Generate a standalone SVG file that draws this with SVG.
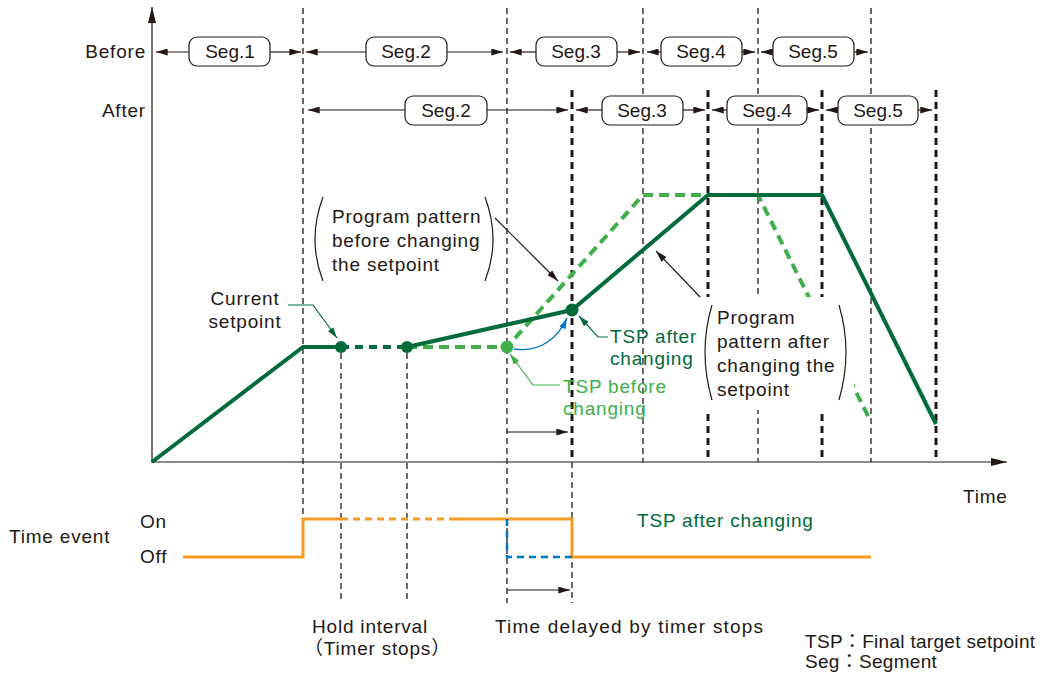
<svg xmlns="http://www.w3.org/2000/svg" width="1055" height="675" viewBox="0 0 1055 675">
<defs>
<style>
text{font-family:"Liberation Sans","Noto Sans CJK JP",Arial,sans-serif;font-size:19px;fill:#231815;letter-spacing:0.8px}
.seg{letter-spacing:0;text-anchor:middle}
.box{fill:#fff;stroke:#231815;stroke-width:1.2}
.dim{stroke:#231815;stroke-width:1.2;fill:none}
.thin{stroke:#231815;stroke-width:1.3;stroke-dasharray:6 4;fill:none}
.thick{stroke:#231815;stroke-width:3;stroke-dasharray:7 5;fill:none}
.dg{stroke:#006a3b;stroke-width:4;fill:none;stroke-linejoin:round}
.lg{stroke:#3db049;stroke-width:4;fill:none;stroke-dasharray:10 6}
.or{stroke:#f59a23;stroke-width:3;fill:none}
.green{fill:#006a3b}
.lgreen{fill:#3db049}
</style>
<marker id="ah" viewBox="0 0 10 6" refX="10" refY="3" markerWidth="12" markerHeight="7" markerUnits="userSpaceOnUse" orient="auto"><path d="M0,0L10,3L0,6z" fill="#231815"/></marker>
<marker id="ahg" viewBox="0 0 10 6" refX="10" refY="3" markerWidth="11" markerHeight="7" markerUnits="userSpaceOnUse" orient="auto"><path d="M0,0L10,3L0,6z" fill="#006a3b"/></marker>
<marker id="ahl" viewBox="0 0 10 6" refX="10" refY="3" markerWidth="11" markerHeight="7" markerUnits="userSpaceOnUse" orient="auto"><path d="M0,0L10,3L0,6z" fill="#3db049"/></marker>
<marker id="ahb" viewBox="0 0 10 6" refX="10" refY="3" markerWidth="11" markerHeight="7" markerUnits="userSpaceOnUse" orient="auto"><path d="M0,0L10,3L0,6z" fill="#0075c2"/></marker>
<marker id="axis" viewBox="0 0 16 8" refX="16" refY="4" markerWidth="16" markerHeight="8" markerUnits="userSpaceOnUse" orient="auto"><path d="M0,0L16,4L0,8z" fill="#231815"/></marker>
</defs>
<rect width="1055" height="675" fill="#fff"/>

<g id="gridlines">
<path class="thin" d="M303,8V519M507,8V603M643,8V462M758,8V462M871,8V462M341,353V603M407,353V603M572,462V603"/>
<path class="thick" d="M572,90V462M708,90V462M822,90V462M936,90V462"/>
</g>

<g id="axes">
<path class="dim" d="M152,463V7" stroke-width="1.5" marker-end="url(#axis)"/>
<path class="dim" d="M152,462H1007" stroke-width="1.5" marker-end="url(#axis)"/>
<text x="963" y="503">Time</text>
</g>

<g id="rowlabels">
<text x="146" y="58" text-anchor="end">Before</text>
<text x="146" y="117" text-anchor="end">After</text>
</g>

<g id="connectors">
<path class="dim" marker-end="url(#ah)" d="M189,52H156"/>
<path class="dim" marker-end="url(#ah)" d="M270,52H301"/>
<path class="dim" marker-end="url(#ah)" d="M366,52H306"/>
<path class="dim" marker-end="url(#ah)" d="M447,52H503"/>
<path class="dim" marker-end="url(#ah)" d="M536,52H510"/>
<path class="dim" marker-end="url(#ah)" d="M617,52H640"/>
<path class="dim" marker-end="url(#ah)" d="M661,52H647"/>
<path class="dim" marker-end="url(#ah)" d="M742,52H755"/>
<path class="dim" marker-end="url(#ah)" d="M773,52H761"/>
<path class="dim" marker-end="url(#ah)" d="M854,52H868"/>
<path class="dim" marker-end="url(#ah)" d="M405,110H308"/>
<path class="dim" marker-end="url(#ah)" d="M487,110H568"/>
<path class="dim" marker-end="url(#ah)" d="M602,110H576"/>
<path class="dim" marker-end="url(#ah)" d="M683,110H705"/>
<path class="dim" marker-end="url(#ah)" d="M727,110H712"/>
<path class="dim" marker-end="url(#ah)" d="M807,110H819"/>
<path class="dim" marker-end="url(#ah)" d="M838,110H826"/>
<path class="dim" marker-end="url(#ah)" d="M918,110H932"/>
<path class="dim" marker-end="url(#ah)" d="M507,432H568"/>
<path class="dim" marker-end="url(#ah)" d="M507,590H570"/>
<path class="dim" marker-end="url(#ah)" d="M495,218L558,281"/>
<path class="dim" marker-end="url(#ah)" d="M703,300L656,251"/>
<path d="M288,305H313L337,338" stroke="#006a3b" stroke-width="1.2" fill="none" marker-end="url(#ahg)"/>
<path d="M608,337H598L579,316" stroke="#006a3b" stroke-width="1.2" fill="none" marker-end="url(#ahg)"/>
<path d="M560,385H533L510,354" stroke="#3db049" stroke-width="1.2" fill="none" marker-end="url(#ahl)"/>
<path d="M514,349C540,353 558,338 567,318" stroke="#0075c2" stroke-width="1.4" fill="none" marker-end="url(#ahb)"/>
</g>

<g id="seg-before">
<g id="b-seg1"><rect class="box" x="189" y="37" width="81" height="29" rx="8"/><text class="seg" x="230" y="58">Seg.1</text></g>
<g id="b-seg2"><rect class="box" x="366" y="37" width="81" height="29" rx="8"/><text class="seg" x="406" y="58">Seg.2</text></g>
<g id="b-seg3"><rect class="box" x="536" y="37" width="81" height="29" rx="8"/><text class="seg" x="576" y="58">Seg.3</text></g>
<g id="b-seg4"><rect class="box" x="661" y="37" width="81" height="29" rx="8"/><text class="seg" x="701" y="58">Seg.4</text></g>
<g id="b-seg5"><rect class="box" x="773" y="37" width="81" height="29" rx="8"/><text class="seg" x="813" y="58">Seg.5</text></g>
</g>
<g id="seg-after">
<g id="a-seg2"><rect class="box" x="405" y="96" width="82" height="29" rx="8"/><text class="seg" x="446" y="117">Seg.2</text></g>
<g id="a-seg3"><rect class="box" x="602" y="96" width="81" height="29" rx="8"/><text class="seg" x="642" y="117">Seg.3</text></g>
<g id="a-seg4"><rect class="box" x="727" y="96" width="80" height="29" rx="8"/><text class="seg" x="767" y="117">Seg.4</text></g>
<g id="a-seg5"><rect class="box" x="838" y="96" width="80" height="29" rx="8"/><text class="seg" x="878" y="117">Seg.5</text></g>
</g>

<g id="pattern-before">
<path class="lg" d="M407,347H507L643,195H758L870,420"/>
</g>
<g id="pattern-after">
<path class="dg" d="M152,462L303,347H341"/>
<path class="dg" d="M341,347H407" stroke-dasharray="8 6"/>
<path class="dg" d="M407,347L572,310L708,195H822L936,424"/>
<circle cx="341" cy="347" r="6" class="green"/>
<circle cx="407" cy="347" r="6" class="green"/>
<circle cx="572" cy="310" r="6.5" class="green"/>
<circle cx="507" cy="347" r="6.5" class="lgreen"/>
</g>

<g id="label-after">
<rect x="700" y="297" width="154" height="113" fill="#fff"/>
<path d="M712,305Q698,352 712,400M839,305Q853,352 839,400" stroke="#231815" stroke-width="1.2" fill="none"/>
<text x="717" y="324">Program</text>
<text x="717" y="348">pattern after</text>
<text x="717" y="372">changing the</text>
<text x="717" y="396">setpoint</text>
</g>

<g id="label-before">
<path d="M323,197Q307,240 323,281M485,197Q501,240 485,281" stroke="#231815" stroke-width="1.2" fill="none"/>
<text x="332" y="223">Program pattern</text>
<text x="332" y="247">before changing</text>
<text x="332" y="271">the setpoint</text>
</g>

<g id="label-current">
<text x="245" y="305" text-anchor="middle">Current</text>
<text x="245" y="328" text-anchor="middle">setpoint</text>
</g>
<g id="label-tsp-after">
<text x="610" y="343" style="fill:#006a3b">TSP after</text>
<text x="610" y="365" style="fill:#006a3b">changing</text>
</g>
<g id="label-tsp-before">
<text x="563" y="393" style="fill:#3db049">TSP before</text>
<text x="563" y="415" style="fill:#3db049">changing</text>
</g>

<g id="time-event">
<path class="or" d="M183,557H303V519H341"/>
<path class="or" d="M341,519H452" stroke-dasharray="7 5"/>
<path class="or" d="M452,519H572V557H871"/>
<path d="M507,519V557H572" stroke="#0075c2" stroke-width="2.5" stroke-dasharray="7 5" fill="none"/>
<text x="9" y="543">Time event</text>
<text x="140" y="528">On</text>
<text x="140" y="563">Off</text>
<text x="637" y="527" style="fill:#006a3b">TSP after changing</text>
</g>

<g id="bottom-labels">
<text x="312" y="633">Hold interval</text>
<text x="304" y="655">（Timer stops）</text>
<text x="495" y="633" style="letter-spacing:1.2px">Time delayed by timer stops</text>
<text x="805" y="648" style="letter-spacing:0.3px">TSP：Final target setpoint</text>
<text x="805" y="668" style="letter-spacing:0.3px">Seg：Segment</text>
</g>
</svg>
